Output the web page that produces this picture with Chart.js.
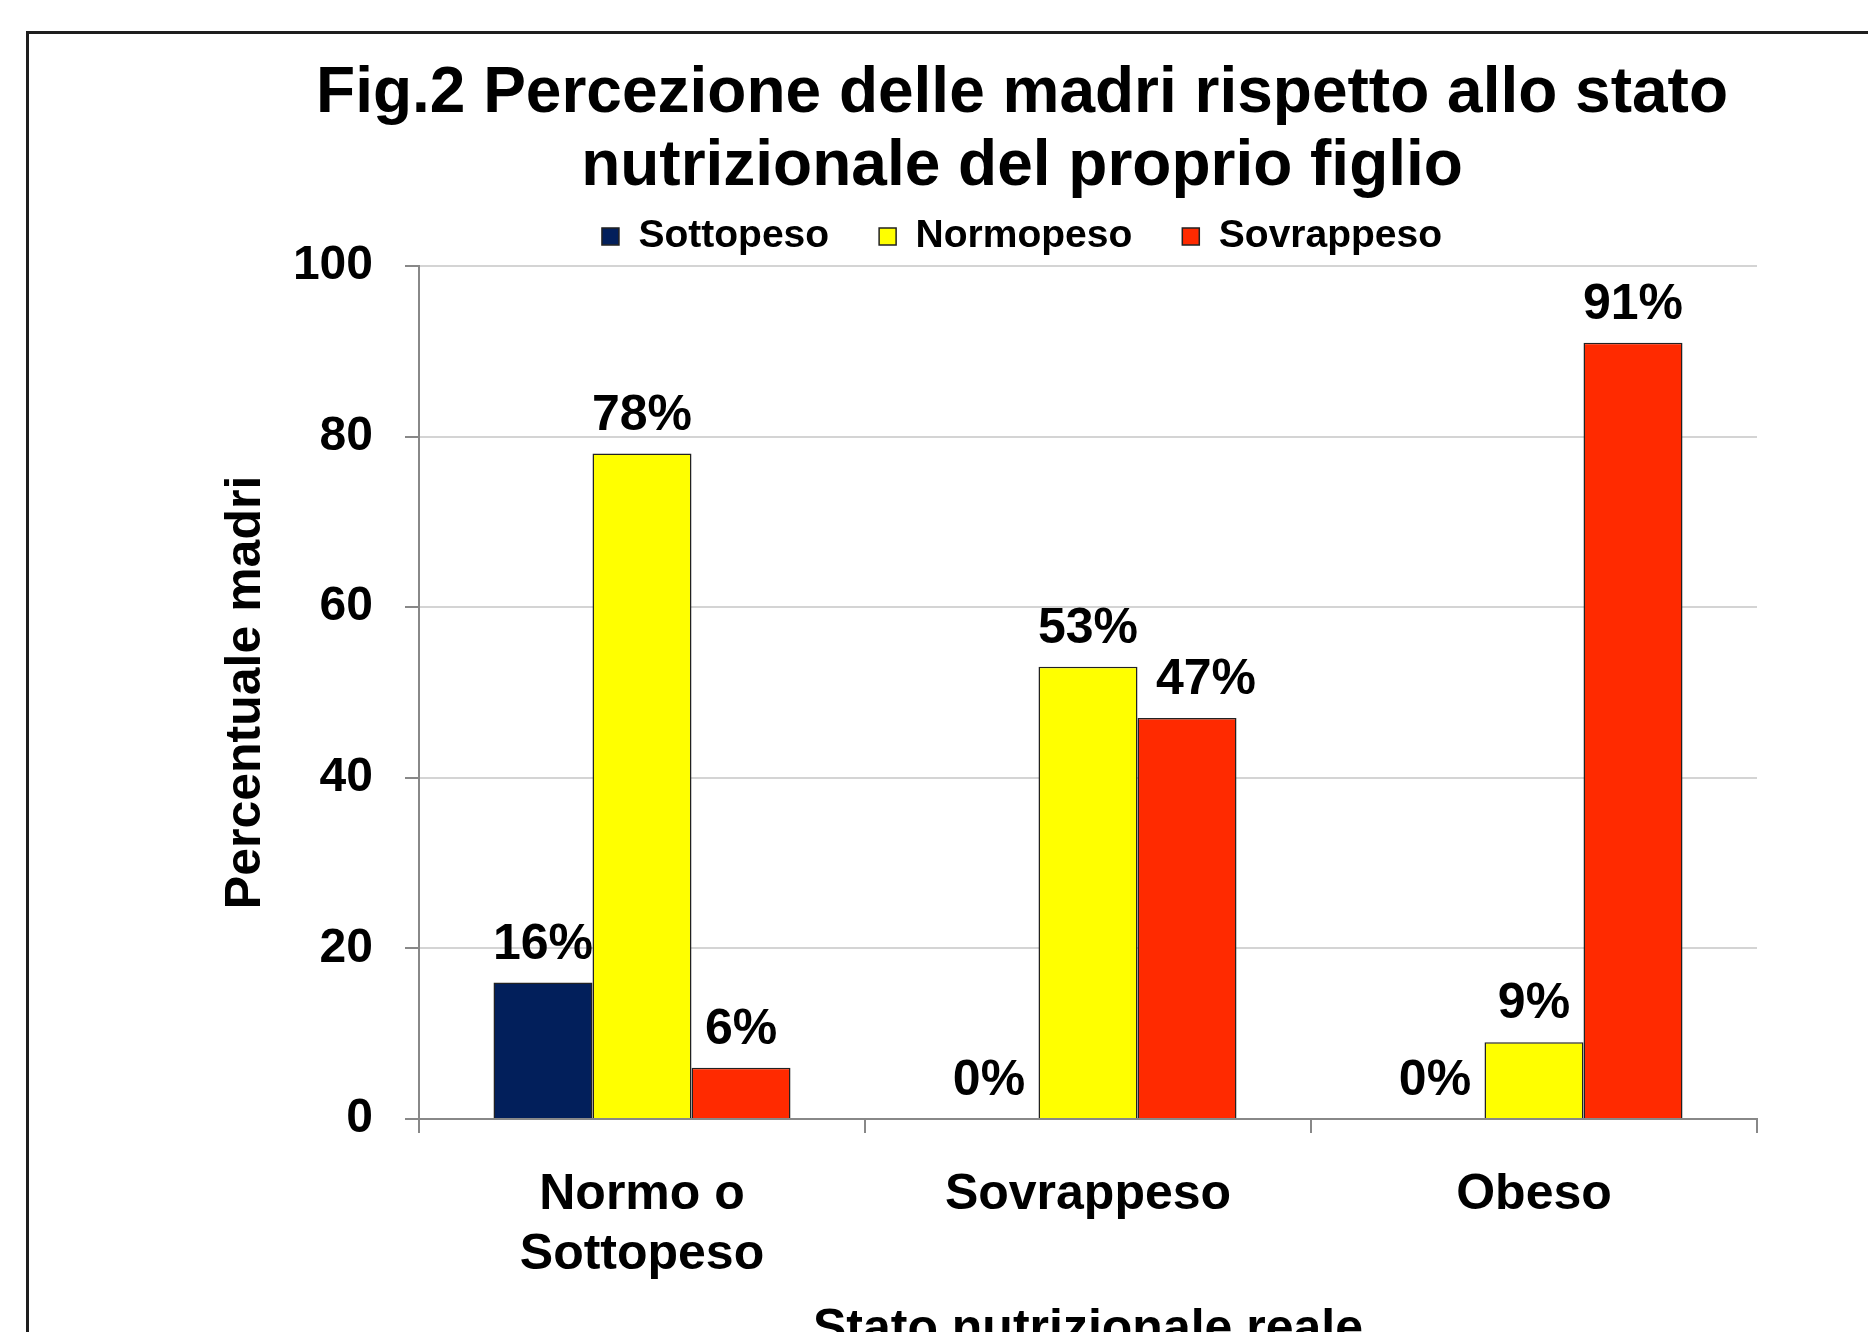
<!DOCTYPE html>
<html>
<head>
<meta charset="utf-8">
<script src="https://cdn.jsdelivr.net/npm/chart.js@4.4.1/dist/chart.umd.min.js"></script>
<style>
  html, body { margin: 0; padding: 0; background: #fff; overflow: hidden; width: 1868px; height: 1332px; }
  #frame { position: absolute; left: 26px; top: 31px; width: 1900px; height: 1400px; border: 3px solid #1e1e1e; }
  #chart { display: block; }
</style>
</head>
<body>
<div id="frame"><canvas id="chart" width="1900" height="1345"></canvas></div>
<script>
// data
const categories = [["Normo o", "Sottopeso"], "Sovrappeso", "Obeso"];
const seriesNames = ["Sottopeso", "Normopeso", "Sovrappeso"];
const sottopeso = [16, 0, 0];
const normopeso = [78, 53, 9];
const sovrappeso = [6, 47, 91];
const yTicks = [0, 20, 40, 60, 80, 100];

const colors = ["#021f5b", "#ffff00", "#ff2a00"];
const FONT = "'Liberation Sans', Arial, sans-serif";
Chart.defaults.font.family = FONT;
Chart.defaults.color = "#000";

// value labels above each bar ("78%")
const valueLabels = {
  id: "valueLabels",
  afterDatasetsDraw(chart, args, opts) {
    const ctx = chart.ctx;
    ctx.save();
    ctx.font = "bold 50px " + FONT;
    ctx.fillStyle = "#000";
    ctx.textAlign = "center";
    ctx.textBaseline = "alphabetic";
    chart.data.datasets.forEach((ds, i) => {
      chart.getDatasetMeta(i).data.forEach((bar, j) => {
        const dx = (opts.nudge[i + "," + j] || 0);
        ctx.fillText(ds.data[j] + "%", bar.x + dx, bar.y - 24);
      });
    });
    ctx.restore();
  }
};

const seriesData = [sottopeso, normopeso, sovrappeso];

new Chart(document.getElementById("chart"), {
  type: "bar",
  data: {
    labels: categories,
    datasets: seriesNames.map((name, i) => ({
      label: name,
      data: seriesData[i],
      backgroundColor: colors[i],
      borderColor: "#222",
      borderWidth: 1.5,
      categoryPercentage: 0.666,
      barPercentage: 1.0
    }))
  },
  options: {
    responsive: false,
    animation: false,
    layout: { padding: { left: 258, right: 172, top: 10, bottom: 20 } },
    plugins: {
      title: {
        display: true,
        text: ["Fig.2 Percezione delle madri rispetto allo stato", "nutrizionale del proprio figlio"],
        font: { size: 64, weight: "bold", lineHeight: 1.14 },
        color: "#000",
        padding: { top: 14, bottom: -37 }
      },
      legend: {
        display: true,
        labels: {
          boxWidth: 17,
          boxHeight: 17,
          padding: 50,
          font: { size: 39, weight: "bold" },
          color: "#000"
        }
      },
      tooltip: { enabled: false },
      valueLabels: { nudge: { "2,1": 19 } }
    },
    scales: {
      x: {
        grid: { display: true, drawOnChartArea: false, drawTicks: true, tickLength: 14, tickColor: "#888", lineWidth: 2, offset: true },
        border: { color: "#888", width: 2 },
        ticks: { font: { size: 50, weight: "bold", lineHeight: 1.2 }, color: "#000", padding: 32, maxRotation: 0 },
        title: {
          display: true,
          text: "Stato nutrizionale reale",
          font: { size: 50, weight: "bold", lineHeight: 1.2 },
          color: "#000",
          padding: { top: 0, bottom: -1 }
        },
        afterFit(scale) { scale.height = 240; }
      },
      y: {
        min: 0,
        max: 100,
        afterBuildTicks(scale) { scale.ticks = yTicks.map(v => ({ value: v })); },
        grid: { color: "#d4d4d4", lineWidth: 2, tickLength: 14, tickColor: "#888" },
        border: { color: "#888", width: 2 },
        ticks: { font: { size: 48, weight: "bold" }, color: "#000", padding: 32 },
        title: {
          display: true,
          text: "Percentuale madri",
          font: { size: 50, weight: "bold", lineHeight: 1.2 },
          color: "#000",
          padding: { top: -71, bottom: 0 }
        },
        afterFit(scale) { scale.width = 132; }
      }
    }
  },
  plugins: [valueLabels]
});
</script>
</body>
</html>
